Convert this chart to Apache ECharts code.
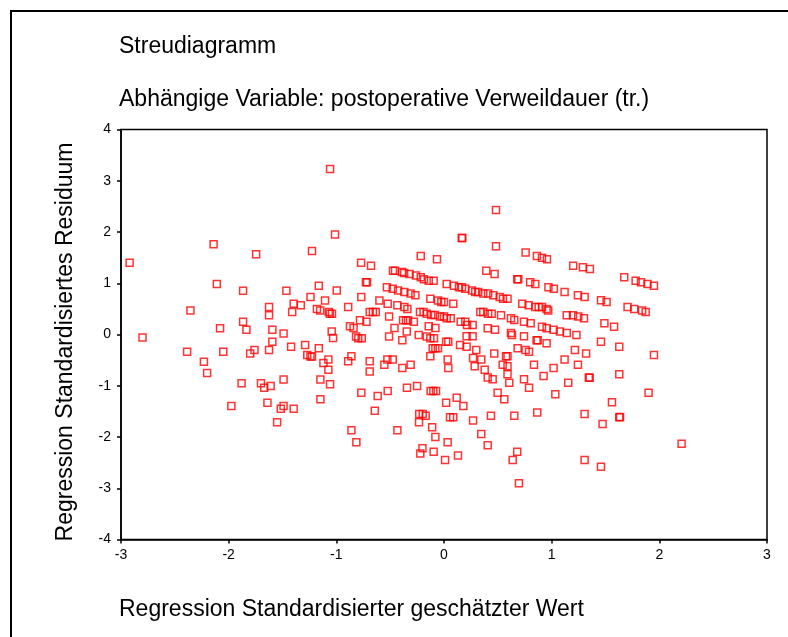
<!DOCTYPE html>
<html>
<head>
<meta charset="utf-8">
<script src="https://cdn.jsdelivr.net/npm/echarts@6/dist/echarts.min.js"></script>
<style>
  html, body { margin: 0; padding: 0; background: #fff; }
  #chart { width: 788px; height: 637px; }
</style>
</head>
<body>
<div id="chart"></div>
<script>
// Streudiagramm: standardisierter geschätzter Wert (x) gegen standardisiertes Residuum (y)
const xTicks = [-3, -2, -1, 0, 1, 2, 3];
const yTicks = [-4, -3, -2, -1, 0, 1, 2, 3, 4];

// Punkte links (x < -1.4)
const pointsLeft = [
  [-2.14, 1.76], [-1.745, 1.565], [-2.92, 1.40], [-2.11, 0.985], [-1.866, 0.855], [-1.464, 0.855],
  [-2.355, 0.47], [-1.625, 0.535], [-1.625, 0.375], [-2.08, 0.12], [-1.866, 0.25], [-1.835, 0.095],
  [-1.594, 0.095], [-1.49, 0.02], [-2.80, -0.06], [-1.594, -0.14], [-2.386, -0.335], [-2.05, -0.335],
  [-1.80, -0.37], [-1.76, -0.30], [-1.625, -0.30], [-2.23, -0.53], [-2.20, -0.75], [-1.88, -0.95],
  [-1.70, -0.95], [-1.67, -1.04], [-1.61, -1.005], [-1.49, -0.88], [-1.975, -1.395], [-1.64, -1.33],
  [-1.516, -1.45], [-1.49, -1.395], [-1.55, -1.71], [-1.42, -0.24]
];

// Punkte Mitte links (-1.4 .. 0), obere Hälfte
const pointsMidUpper = [
  [-1.058, 3.23], [-1.012, 1.95], [-1.226, 1.63], [-0.77, 1.40], [-0.678, 1.34], [-0.216, 1.53],
  [-0.065, 1.47], [-0.474, 1.245], [-0.455, 1.245], [-0.39, 1.22], [-0.37, 1.20], [-0.32, 1.18],
  [-0.26, 1.15], [-0.216, 1.115], [-0.186, 1.08], [-0.142, 1.05], [-0.096, 1.05], [0.025, 0.985],
  [-0.725, 1.02], [-0.715, 1.02], [-1.163, 0.95], [-0.996, 0.86], [-0.53, 0.92], [-0.476, 0.895],
  [-0.427, 0.86], [-0.368, 0.83], [-0.31, 0.80], [-0.266, 0.765], [-1.396, 0.60], [-1.33, 0.57],
  [-1.41, 0.44], [-1.24, 0.73], [-1.105, 0.665], [-0.768, 0.73], [-0.60, 0.665], [-0.523, 0.60],
  [-0.433, 0.57], [-0.368, 0.535], [-0.34, 0.50], [-0.127, 0.70], [-0.056, 0.665], [-0.025, 0.635],
  [0.0, 0.635], [-1.18, 0.50], [-1.15, 0.47], [-1.07, 0.44], [-1.06, 0.405], [-1.04, 0.405],
  [-0.89, 0.535], [-0.69, 0.44], [-0.66, 0.44], [-0.634, 0.44], [-0.78, 0.28], [-0.72, 0.25],
  [-0.873, 0.16], [-0.84, 0.125], [-0.51, 0.35], [-0.38, 0.28], [-0.353, 0.28], [-0.334, 0.28],
  [-0.28, 0.25], [-0.223, 0.44], [-0.19, 0.44], [-0.16, 0.405], [-0.118, 0.38], [-0.084, 0.38],
  [-0.46, 0.125], [-0.346, 0.06], [-0.142, 0.16], [-0.08, 0.125], [-1.043, 0.06]
];

// Punkte Mitte links (-1.4 .. 0), untere Hälfte
const pointsMidLower = [
  [-1.03, -0.07], [-0.817, -0.04], [-0.796, -0.075], [-0.764, -0.075], [-0.51, -0.04], [-0.387, -0.11],
  [-0.235, -0.01], [-0.16, -0.04], [-0.127, -0.075], [-0.093, -0.075], [0.02, -0.14], [0.04, -0.14],
  [-1.29, -0.205], [-1.163, -0.27], [-1.27, -0.40], [-1.24, -0.43], [-1.226, -0.43], [-1.12, -0.556],
  [-1.074, -0.49], [-1.074, -0.687], [-0.89, -0.52], [-0.86, -0.425], [-0.69, -0.52], [-0.69, -0.72],
  [-0.554, -0.59], [-0.526, -0.49], [-0.476, -0.49], [-0.387, -0.654], [-0.31, -0.59], [-0.127, -0.425],
  [-0.105, -0.27], [-0.08, -0.27], [-0.056, -0.27], [0.034, -0.49], [0.04, -0.654], [-1.148, -0.88],
  [-1.058, -0.97], [-1.148, -1.265], [-1.396, -1.45], [-0.768, -1.135], [-0.616, -1.2], [-0.523, -1.10],
  [-0.643, -1.487], [-0.344, -1.04], [-0.25, -1.005], [-0.124, -1.10], [-0.099, -1.10], [-0.074, -1.10],
  [0.02, -1.33], [-0.23, -1.55], [-0.198, -1.55], [-0.17, -1.585], [-0.232, -1.71], [-0.11, -1.81],
  [-0.08, -2.0], [-0.86, -1.87], [-0.814, -2.10], [-0.433, -1.87], [-0.2, -2.22], [-0.22, -2.32],
  [-0.096, -2.29], [0.01, -2.45], [0.034, -2.10], [0.056, -1.615]
];

// Punkte rechts (x > 0), obere Hälfte
const pointsRightUpper = [
  [0.483, 2.43], [0.165, 1.883], [0.17, 1.883], [0.483, 1.72], [0.758, 1.60], [0.863, 1.53],
  [0.91, 1.50], [0.956, 1.47], [0.393, 1.245], [0.47, 1.18], [0.68, 1.08], [0.69, 1.08],
  [0.80, 1.02], [0.848, 0.985], [0.97, 0.92], [1.02, 0.895], [1.12, 0.83], [1.20, 1.34],
  [1.29, 1.31], [1.355, 1.28], [1.244, 0.765], [1.306, 0.73], [1.458, 0.667], [1.51, 0.634],
  [0.093, 0.95], [0.139, 0.92], [0.167, 0.92], [0.198, 0.895], [0.26, 0.86], [0.29, 0.83],
  [0.318, 0.83], [0.365, 0.80], [0.41, 0.80], [0.458, 0.765], [0.517, 0.73], [0.548, 0.70],
  [0.59, 0.70], [0.727, 0.60], [0.786, 0.57], [0.848, 0.535], [0.879, 0.535], [0.91, 0.535],
  [0.953, 0.50], [0.968, 0.47], [0.086, 0.60], [-0.037, 0.35], [0.0, 0.35], [0.025, 0.316],
  [0.062, 0.316], [0.155, 0.25], [0.198, 0.25], [0.214, 0.185], [0.266, 0.185], [0.337, 0.44],
  [0.365, 0.44], [0.41, 0.405], [0.443, 0.405], [0.53, 0.375], [0.622, 0.316], [0.653, 0.283],
  [0.743, 0.25], [0.805, 0.218], [1.14, 0.375], [1.198, 0.375], [1.247, 0.35], [1.30, 0.316],
  [1.49, 0.218], [0.406, 0.12], [0.474, 0.095], [0.21, -0.035], [0.266, -0.035], [0.622, 0.03],
  [0.631, -0.01], [0.743, -0.035], [0.91, 0.152], [0.953, 0.12], [1.018, 0.095], [1.077, 0.06],
  [1.14, 0.03], [1.23, -0.01],
  [1.674, 1.115], [1.78, 1.05], [1.83, 1.02], [1.89, 0.985], [1.95, 0.95], [1.705, 0.535],
  [1.767, 0.50], [1.84, 0.47], [1.873, 0.44], [1.58, 0.152]
];

// Punkte rechts (x > 0), untere Hälfte
const pointsRightLower = [
  [0.86, -0.11], [0.87, -0.11], [0.953, -0.17], [1.458, -0.14], [0.149, -0.205], [0.21, -0.24],
  [0.30, -0.30], [0.467, -0.37], [0.684, -0.27], [0.758, -0.30], [0.79, -0.335], [1.216, -0.30],
  [1.32, -0.37], [0.27, -0.46], [0.285, -0.62], [0.346, -0.49], [0.378, -0.687], [0.406, -0.84],
  [0.452, -0.875], [0.545, -0.59], [0.576, -0.425], [0.59, -0.425], [0.59, -0.62], [0.59, -0.777],
  [0.606, -0.94], [0.836, -0.59], [0.743, -0.875], [0.79, -1.04], [0.925, -0.81], [1.018, -0.654],
  [1.12, -0.49], [1.244, -0.59], [1.154, -0.94], [1.353, -0.843], [1.345, -0.84], [1.56, -1.32],
  [0.498, -1.135], [0.56, -1.265], [1.034, -1.167], [0.118, -1.233], [0.18, -1.395], [0.086, -1.616],
  [0.27, -1.68], [0.436, -1.585], [0.653, -1.585], [0.866, -1.52], [1.306, -1.55], [1.473, -1.746],
  [0.346, -1.94], [0.406, -2.16], [0.13, -2.36], [0.68, -2.29], [0.638, -2.45], [0.696, -2.90],
  [1.306, -2.45], [1.458, -2.58],
  [1.628, -0.24], [1.95, -0.40], [1.628, -0.777], [1.90, -1.135], [1.628, -1.616], [1.635, -1.61],
  [2.207, -2.13]
];

const allPoints = [].concat(pointsLeft, pointsMidUpper, pointsMidLower, pointsRightUpper, pointsRightLower);

const chart = echarts.init(document.getElementById('chart'));
const fontFamily = '"Liberation Sans", Arial, sans-serif';

chart.setOption({
  animation: false,
  backgroundColor: '#fff',
  grid: {
    left: 121,
    right: 21,
    top: 129.5,
    bottom: 97.5,
    show: true,
    borderColor: '#000',
    borderWidth: 1.5,
  },
  xAxis: {
    type: 'value',
    min: xTicks[0],
    max: xTicks[xTicks.length - 1],
    interval: 1,
    axisLine: { show: true, onZero: false, lineStyle: { color: '#000', width: 1.5 } },
    axisTick: { show: true, length: 4, lineStyle: { color: '#000', width: 1.5 } },
    axisLabel: { color: '#000', fontSize: 14, fontFamily: fontFamily, margin: 9 },
    splitLine: { show: false },
  },
  yAxis: {
    type: 'value',
    min: yTicks[0],
    max: yTicks[yTicks.length - 1],
    interval: 1,
    axisLine: { show: true, onZero: false, lineStyle: { color: '#000', width: 1.5 } },
    axisTick: { show: true, length: 4, lineStyle: { color: '#000', width: 1.5 } },
    axisLabel: { color: '#000', fontSize: 14, fontFamily: fontFamily, margin: 10 },
    splitLine: { show: false },
  },
  graphic: [
    {
      type: 'rect',
      shape: { x: 11, y: 11, width: 800, height: 700 },
      style: { fill: 'none', stroke: '#000', lineWidth: 2 },
      silent: true,
    },
    {
      type: 'text', left: 119, top: 35,
      style: { text: 'Streudiagramm', fontSize: 23, fontFamily: fontFamily, fill: '#000' },
    },
    {
      type: 'text', left: 119, top: 88,
      style: { text: 'Abhängige Variable: postoperative Verweildauer (tr.)', fontSize: 23, fontFamily: fontFamily, fill: '#000' },
    },
    {
      type: 'text', left: 119, top: 598,
      style: { text: 'Regression Standardisierter geschätzter Wert', fontSize: 23, fontFamily: fontFamily, fill: '#000' },
    },
    {
      type: 'text', x: 66, y: 342, rotation: Math.PI / 2,
      style: {
        text: 'Regression Standardisiertes Residuum', fontSize: 23, fontFamily: fontFamily, fill: '#000',
        align: 'center', verticalAlign: 'middle',
      },
    },
  ],
  series: [
    {
      type: 'scatter',
      data: allPoints,
      symbol: 'rect',
      symbolSize: 7,
      itemStyle: { color: 'rgba(0,0,0,0)', borderColor: '#ff0000', borderWidth: 1.5 },
    },
  ],
});
</script>
</body>
</html>
